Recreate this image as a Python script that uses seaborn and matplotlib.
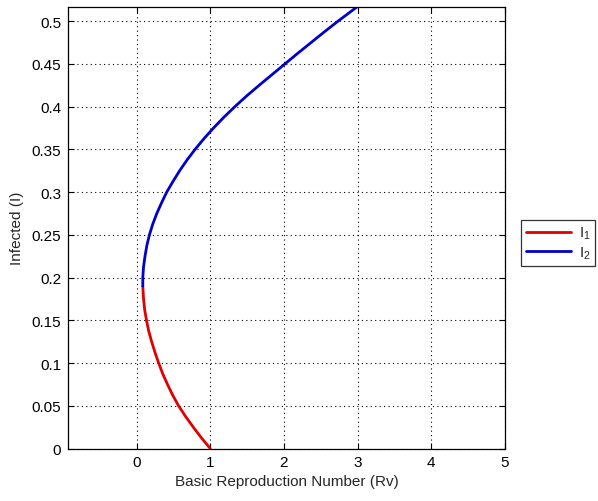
import numpy as np
import pandas as pd
import matplotlib
matplotlib.use("Agg")
import matplotlib.pyplot as plt
from matplotlib.lines import Line2D
import seaborn as sns

# I1 branch (red): infected level vs reproduction number
i1_infected = [0.00, 0.0125, 0.025, 0.0375, 0.05, 0.0625, 0.075, 0.0875, 0.10,
               0.1125, 0.125, 0.1375, 0.15, 0.1625, 0.175, 0.19]
i1_rv       = [1.00, 0.88, 0.77, 0.665, 0.57, 0.49, 0.42, 0.355, 0.30,
               0.25, 0.205, 0.165, 0.135, 0.11, 0.095, 0.085]
# I2 branch (blue)
i2_infected = [0.19, 0.20, 0.2125, 0.225, 0.2375, 0.25, 0.2625, 0.275, 0.2875,
               0.30, 0.3125, 0.325, 0.3375, 0.35, 0.3625, 0.375, 0.3875, 0.40,
               0.4125, 0.425, 0.4375, 0.45, 0.4625, 0.475, 0.4875, 0.50, 0.5165]
i2_rv       = [0.085, 0.085, 0.095, 0.115, 0.14, 0.175, 0.22, 0.275, 0.34,
               0.41, 0.495, 0.585, 0.685, 0.795, 0.915, 1.045, 1.185, 1.335,
               1.495, 1.665, 1.84, 2.015, 2.19, 2.37, 2.55, 2.735, 2.99]

series_names = ["I1", "I2"]
legend_labels = [r"$\mathregular{I_1}$", r"$\mathregular{I_2}$"]
xticks = [0, 1, 2, 3, 4, 5]
yticks = [0, 0.05, 0.1, 0.15, 0.2, 0.25, 0.3, 0.35, 0.4, 0.45, 0.5]
ytick_labels = ["0", "0.05", "0.1", "0.15", "0.2", "0.25", "0.3", "0.35", "0.4", "0.45", "0.5"]

df = pd.concat([
    pd.DataFrame({"Rv": i1_rv, "I": i1_infected, "series": series_names[0]}),
    pd.DataFrame({"Rv": i2_rv, "I": i2_infected, "series": series_names[1]}),
], ignore_index=True)

sns.set_style("white")
plt.rcParams['font.family'] = ['Liberation Sans', 'DejaVu Sans']
plt.rcParams['mathtext.fontset'] = 'custom'
plt.rcParams['mathtext.rm'] = 'Liberation Sans'
plt.rcParams['mathtext.it'] = 'Liberation Sans'

FS = 11

fig = plt.figure(figsize=(5.98, 5.02), dpi=100)
ax = fig.add_axes([68/598, 1-449.5/502, (505-68)/598, (449.5-8)/502])

palette = {"I1": "#e00000", "I2": "#0000cc"}
sns.lineplot(data=df, x="Rv", y="I", hue="series", palette=palette, sort=False,
             estimator=None, linewidth=2, ax=ax, legend=False)

ax.set_xlim(-0.93, 5)
ax.set_ylim(0, 0.5165)
ax.set_xticks(xticks)
ax.set_xticklabels([str(t) for t in xticks])
ax.set_yticks(yticks)
ax.set_yticklabels(ytick_labels)
ax.grid(True, linestyle=(0, (1, 3)), color="black", linewidth=0.8)
ax.tick_params(direction="in", length=4, width=0.8, colors="black", labelsize=FS,
               top=True, right=True, left=True, bottom=True, pad=5)
for s in ax.spines.values():
    s.set_visible(True)
    s.set_color("black")
    s.set_linewidth(0.9)
ax.set_xlabel("Basic Reproduction Number (Rv)", fontsize=FS, labelpad=3)
ax.set_ylabel("Infected (I)", fontsize=FS, labelpad=5)

handles = [Line2D([0], [0], color=palette[n], linewidth=2) for n in series_names]
leg = fig.legend(handles, legend_labels, loc="center left",
                 bbox_to_anchor=(521/598, 1-244/502), frameon=True, fancybox=False,
                 edgecolor="black", fontsize=FS, handlelength=3.0, handletextpad=0.5,
                 borderpad=0.3, labelspacing=0.2, borderaxespad=0)
leg.get_frame().set_linewidth(0.9)

fig.savefig("out.png", dpi=100, facecolor="white")
